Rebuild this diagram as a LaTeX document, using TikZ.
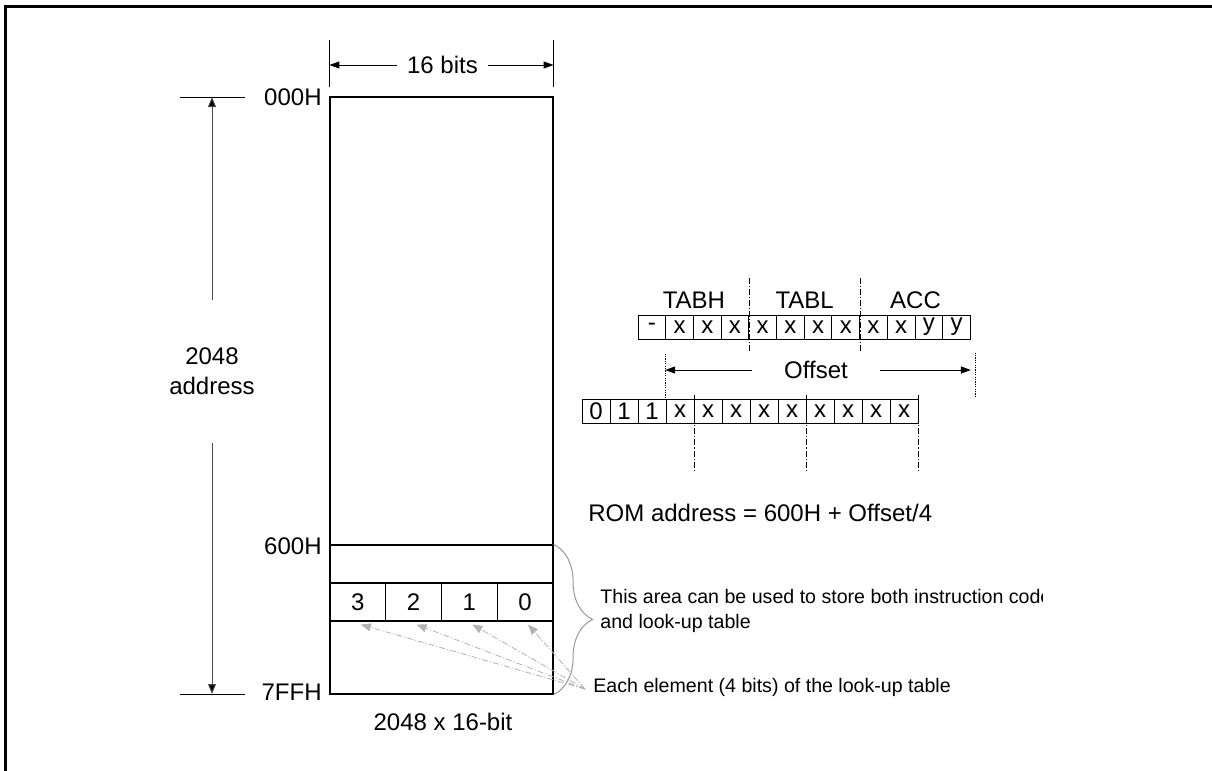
\documentclass[tikz,border=0pt]{standalone}
\usepackage{fontspec}
\setmainfont{Liberation Sans}
\usetikzlibrary{arrows.meta,positioning,decorations.pathreplacing}

\begin{document}
\begin{tikzpicture}[x=0.5pt, y=-0.5pt,
  lbl/.style={inner sep=0pt, font=\fontsize{12}{15}\selectfont},
  note/.style={inner sep=0pt, align=left, font=\fontsize{9.8}{12.5}\selectfont},
  romcell/.style={draw, line width=0.6pt, minimum width=27.875pt, minimum height=19pt,
    inner sep=0pt, font=\fontsize{12}{14}\selectfont},
  bitcell/.style={draw, line width=0.5pt, minimum height=12pt, inner sep=0pt,
    font=\fontsize{12}{14}\selectfont},
  dim/.style={-{Triangle[length=5pt,width=3.5pt]}, line width=0.5pt},
  addrarrow/.style={-{Triangle[length=5pt,width=4pt,fill=black]}, draw=black!70, line width=0.5pt},
  grpline/.style={line width=0.4pt, dash pattern=on 3pt off 1pt on 0.6pt off 1pt},
  dotline/.style={line width=0.4pt, dash pattern=on 0.6pt off 0.6pt},
  ptr/.style={-{Triangle[length=5pt,width=4pt]}, draw=black!30, line width=0.4pt,
    dash pattern=on 3pt off 1pt on 0.6pt off 1pt},
  brace/.style={decorate, decoration={brace, amplitude=19.5pt}, draw=black!40, line width=0.5pt}
]
\useasboundingbox (0,0) rectangle (1212,771);
\fill[white] (0,0) rectangle (1212,771);

% page frame
\draw[line width=1.35pt] (5.3,771) -- (5.3,6.2) -- (1212,6.2);

% ROM map
\node[draw, line width=0.6pt, minimum width=111.5pt, minimum height=298.5pt, inner sep=0pt] (rom) at (441.5,395.5) {};
\node[draw, line width=0.6pt, minimum width=111.5pt, minimum height=19pt, inner sep=0pt] (blank) at (441.5,564) {};
\foreach \v [count=\i] in {3,2,1,0}
  \node[romcell] (el\v) at (330+55.75*\i-27.875,602) {\v};
\node[lbl] (romsize) at (443,722) {2048 x 16-bit};

% address labels
\node[lbl, anchor=east] (a000) at (322,97) {000H};
\node[lbl, anchor=east] (a600) at (322,546) {600H};
\node[lbl, anchor=east] (a7ff) at (322,692) {7FFH};

\coordinate (ttop) at (212,97);
\coordinate (tbot) at (212,694);
\draw[line width=0.5pt] ([xshift=-16pt]ttop) -- ([xshift=16.5pt]ttop);
\draw[line width=0.5pt] ([xshift=-16pt]tbot) -- ([xshift=16.5pt]tbot);
\node[lbl, align=center, minimum height=71.5pt] (addr) at (212,371.5) {2048\\address};
\draw[addrarrow] (addr.north) -- (ttop);
\draw[addrarrow] (addr.south) -- (tbot);

% width
\draw[line width=0.5pt] ([yshift=4.5pt]rom.north west) -- ([yshift=28pt]rom.north west);
\draw[line width=0.5pt] ([yshift=4.5pt]rom.north east) -- ([yshift=28pt]rom.north east);
\node[lbl, minimum width=45.5pt] (bits) at (442.5,65) {16 bits};
\draw[dim] (bits.west) -- (rom.north west |- bits);
\draw[dim] (bits.east) -- (rom.north east |- bits);

% table area
\draw[brace] (rom.east |- blank.north) -- (rom.south east);
\begin{scope}
  \clip (590,580) rectangle (1042,640);
  \node[note, anchor=west] (areanote) at (600,611)
    {This area can be used to store both instruction code\\and look-up table};
\end{scope}
\node[note, anchor=west] (elnote) at (593,687) {Each element (4 bits) of the look-up table};
\coordinate (src) at (585,689);
\foreach \v in {3,2,1,0}
  \draw[ptr] (src) -- ([xshift=1.5pt,yshift=-1.5pt]el\v.south);

% register bits
\coordinate (labrow) at (0,300);
\foreach \v [count=\i] in {-,x,x,x,x,x,x,x,x,x,y,y}
  \node[bitcell, minimum width=13.85pt] (hi\i) at (638+27.7*\i-13.85,327) {\v};
\node[lbl] (tabh) at (hi2.north east |- labrow) {TABH};
\node[lbl] (tabl) at (hi6.north east |- labrow) {TABL};
\node[lbl] (acc) at (hi10.north east |- labrow) {ACC};
\draw[grpline] ([yshift=18.5pt]hi4.north east) -- ([yshift=-6.5pt]hi4.south east);
\draw[grpline] ([yshift=18.5pt]hi8.north east) -- ([yshift=-6.5pt]hi8.south east);

% offset
\node[lbl, minimum width=64pt] (offset) at (816,370) {Offset};
\draw[dim] (offset.west) -- (hi2.south west |- offset);
\draw[dim] (offset.east) -- (hi12.south east |- offset);
\draw[dotline] (hi2.south west) ++(0,14) -- ++(0,47);
\draw[dotline] ([xshift=2pt]hi12.south east) ++(0,13) -- ++(0,45);

% ROM address bits
\foreach \v [count=\i] in {0,1,1,x,x,x,x,x,x,x,x,x}
  \node[bitcell, minimum width=14pt] (lo\i) at (582+28*\i-14,411) {\v};
\foreach \k in {4,8,12}
  \draw[grpline] ([yshift=2pt]lo\k.north east) -- ([yshift=-23.5pt]lo\k.south east);
\node[lbl, anchor=west] (romaddr) at (588,513) {ROM address = 600H + Offset/4};

\end{tikzpicture}
\end{document}
